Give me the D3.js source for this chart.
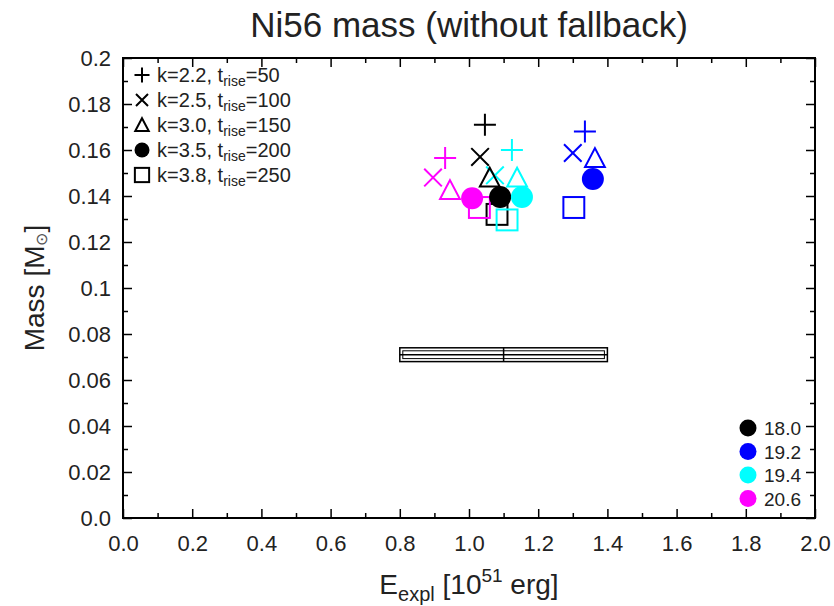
<!DOCTYPE html>
<html><head><meta charset="utf-8">
<script src="https://cdn.jsdelivr.net/npm/d3@7"></script>
<style>body{margin:0;background:#fff}svg{font-family:"Liberation Sans",Arial,sans-serif}</style>
</head><body>
<script>
// ---- data ----
const seriesNames = ["18.0", "19.2", "19.4", "20.6"];
const seriesColors = ["#000000", "#0000ff", "#00ffff", "#ff00ff"];
const markerKinds = ["plus", "cross", "triangle", "circle", "square"];
const markerLabels = [["k=2.2, t", "rise", "=50"], ["k=2.5, t", "rise", "=100"], ["k=3.0, t", "rise", "=150"], ["k=3.5, t", "rise", "=200"], ["k=3.8, t", "rise", "=250"]];
// energy [1e51 erg] per series, order = markerKinds
const energy18 = [1.046, 1.032, 1.06, 1.09, 1.081];
const energy192 = [1.335, 1.30, 1.364, 1.358, 1.303];
const energy194 = [1.124, 1.075, 1.139, 1.153, 1.11];
const energy206 = [0.931, 0.896, 0.945, 1.009, 1.03];
// Ni56 mass [Msun]
const mass18 = [0.171, 0.157, 0.148, 0.1396, 0.132];
const mass192 = [0.168, 0.1587, 0.1565, 0.1474, 0.135];
const mass194 = [0.160, 0.149, 0.148, 0.1396, 0.1296];
const mass206 = [0.1565, 0.148, 0.1426, 0.139, 0.135];
// observed box
const obsE = [0.8, 1.1, 1.4];
const obsM = [0.068, 0.071, 0.074];
const xTicks = [0, 0.2, 0.4, 0.6, 0.8, 1.0, 1.2, 1.4, 1.6, 1.8, 2.0];
const xTickLabels = ["0.0", "0.2", "0.4", "0.6", "0.8", "1.0", "1.2", "1.4", "1.6", "1.8", "2.0"];
const yTicks = [0, 0.02, 0.04, 0.06, 0.08, 0.1, 0.12, 0.14, 0.16, 0.18, 0.2];
const yTickLabels = ["0.0", "0.02", "0.04", "0.06", "0.08", "0.1", "0.12", "0.14", "0.16", "0.18", "0.2"];

const energies = [energy18, energy192, energy194, energy206];
const masses = [mass18, mass192, mass194, mass206];

const W = 834, H = 606;
const m = {left: 123, right: 19, top: 58, bottom: 88};
const svg = d3.select("body").append("svg").attr("width", W).attr("height", H);
const x = d3.scaleLinear().domain([0, 2]).range([m.left, W - m.right]);
const y = d3.scaleLinear().domain([0, 0.2]).range([H - m.bottom, m.top]);

// axes with inward ticks
const xMinor = d3.range(0.1, 2, 0.2);
const yMinor = d3.range(0.01, 0.2, 0.02);
const fmtX = (d, i) => xTickLabels[i];
const fmtY = (d, i) => yTickLabels[i];
svg.append("g").attr("transform", `translate(0,${y(0)})`)
  .call(d3.axisBottom(x).tickValues(xTicks).tickFormat(fmtX).tickSizeInner(-9).tickSizeOuter(0).tickPadding(17));
svg.append("g").attr("transform", `translate(0,${y(0.2)})`)
  .call(d3.axisTop(x).tickValues(xTicks).tickFormat("").tickSizeInner(-9).tickSizeOuter(0));
svg.append("g").attr("transform", `translate(${x(0)},0)`)
  .call(d3.axisLeft(y).tickValues(yTicks).tickFormat(fmtY).tickSizeInner(-9).tickSizeOuter(0).tickPadding(12));
svg.append("g").attr("transform", `translate(${x(2)},0)`)
  .call(d3.axisRight(y).tickValues(yTicks).tickFormat("").tickSizeInner(-9).tickSizeOuter(0));
svg.append("g").attr("transform", `translate(0,${y(0)})`).call(d3.axisBottom(x).tickValues(xMinor).tickFormat("").tickSizeInner(-5).tickSizeOuter(0));
svg.append("g").attr("transform", `translate(0,${y(0.2)})`).call(d3.axisTop(x).tickValues(xMinor).tickFormat("").tickSizeInner(-5).tickSizeOuter(0));
svg.append("g").attr("transform", `translate(${x(0)},0)`).call(d3.axisLeft(y).tickValues(yMinor).tickFormat("").tickSizeInner(-5).tickSizeOuter(0));
svg.append("g").attr("transform", `translate(${x(2)},0)`).call(d3.axisRight(y).tickValues(yMinor).tickFormat("").tickSizeInner(-5).tickSizeOuter(0));
svg.selectAll(".domain").remove();
svg.selectAll(".tick line").attr("stroke", "#000").attr("stroke-width", 1.5);
svg.selectAll(".tick text").attr("font-size", 22).attr("fill", "#222").attr("font-family", "Liberation Sans, Arial, sans-serif");
svg.append("rect").attr("x", x(0)).attr("y", y(0.2)).attr("width", x(2) - x(0)).attr("height", y(0) - y(0.2))
  .attr("fill", "none").attr("stroke", "#000").attr("stroke-width", 2);

// title & axis labels
svg.append("text").attr("x", 469).attr("y", 37).attr("text-anchor", "middle").attr("font-size", 35).attr("fill", "#222").text("Ni56 mass (without fallback)");
const xl = svg.append("text").attr("x", (x(0) + x(2)) / 2).attr("y", 594).attr("text-anchor", "middle").attr("font-size", 28).attr("fill", "#222");
xl.append("tspan").text("E");
xl.append("tspan").attr("font-size", 20).attr("dy", 7).text("expl");
xl.append("tspan").attr("dy", -7).text(" [10");
xl.append("tspan").attr("font-size", 19).attr("dy", -12).text("51");
xl.append("tspan").attr("dy", 12).text(" erg]");
const yl = svg.append("text").attr("transform", `translate(44,${(y(0) + y(0.2)) / 2}) rotate(-90)`).attr("text-anchor", "middle").attr("font-size", 28).attr("fill", "#222");
yl.append("tspan").text("Mass [M");
yl.append("tspan").attr("font-size", 16).attr("fill", "#555").attr("dy", 3).text("\u2299");
yl.append("tspan").attr("dy", -3).text("]");

// observed box
const g = svg.append("g");
g.append("rect").attr("x", x(obsE[0])).attr("y", y(obsM[2])).attr("width", x(obsE[2]) - x(obsE[0])).attr("height", y(obsM[0]) - y(obsM[2]))
  .attr("fill", "none").attr("stroke", "#000").attr("stroke-width", 1.5);
g.append("rect").attr("x", x(obsE[0]) + 3).attr("y", y(obsM[2]) + 3).attr("width", x(obsE[2]) - x(obsE[0]) - 6).attr("height", y(obsM[0]) - y(obsM[2]) - 6)
  .attr("fill", "none").attr("stroke", "#000").attr("stroke-width", 1);
g.append("line").attr("x1", x(obsE[0])).attr("x2", x(obsE[2])).attr("y1", y(obsM[1])).attr("y2", y(obsM[1])).attr("stroke", "#000").attr("stroke-width", 1.5);
g.append("line").attr("x1", x(obsE[1])).attr("x2", x(obsE[1])).attr("y1", y(obsM[0])).attr("y2", y(obsM[2])).attr("stroke", "#000").attr("stroke-width", 1.5);

// markers
function drawMarker(sel, kind, cx, cy, s, color) {
  const h = s / 2;
  if (kind === "plus") {
    sel.append("path").attr("d", `M${cx - h},${cy}H${cx + h}M${cx},${cy - h}V${cy + h}`).attr("stroke", color).attr("stroke-width", 2).attr("fill", "none");
  } else if (kind === "cross") {
    const k = h * 0.8;
    sel.append("path").attr("d", `M${cx - k},${cy - k}L${cx + k},${cy + k}M${cx - k},${cy + k}L${cx + k},${cy - k}`).attr("stroke", color).attr("stroke-width", 2).attr("fill", "none");
  } else if (kind === "triangle") {
    const k = h * 0.9;
    sel.append("path").attr("d", `M${cx},${cy - k}L${cx + k},${cy + k * 0.9}L${cx - k},${cy + k * 0.9}Z`).attr("stroke", color).attr("stroke-width", 2).attr("fill", "none");
  } else if (kind === "circle") {
    sel.append("circle").attr("cx", cx).attr("cy", cy).attr("r", h).attr("fill", color);
  } else if (kind === "square") {
    const k = h * 0.95;
    sel.append("rect").attr("x", cx - k).attr("y", cy - k).attr("width", 2 * k).attr("height", 2 * k).attr("stroke", color).attr("stroke-width", 2).attr("fill", "none");
  }
}
const pts = svg.append("g");
const drawOrder = [0, 1, 2, 4, 3];
drawOrder.forEach(mi => {
  seriesNames.forEach((nm, si) => {
    drawMarker(pts, markerKinds[mi], x(energies[si][mi]), y(masses[si][mi]), 22, seriesColors[si]);
  });
});

// legend top-left (marker types)
const lg = svg.append("g");
markerKinds.forEach((kind, i) => {
  const cy = 75 + i * 25;
  drawMarker(lg, kind, 142, cy, 15, "#000");
  const t = lg.append("text").attr("x", 157).attr("y", cy + 7).attr("font-size", 20).attr("fill", "#222");
  t.append("tspan").text(markerLabels[i][0]);
  t.append("tspan").attr("font-size", 14).attr("dy", 4).text(markerLabels[i][1]);
  t.append("tspan").attr("dy", -4).text(markerLabels[i][2]);
});
// legend bottom-right (series)
const lg2 = svg.append("g");
seriesNames.forEach((nm, i) => {
  const cy = 428 + i * 23.5;
  lg2.append("circle").attr("cx", 748).attr("cy", cy).attr("r", 8.5).attr("fill", seriesColors[i]);
  lg2.append("text").attr("x", 764).attr("y", cy + 7).attr("font-size", 19).attr("fill", "#222").text(nm);
});
</script>
</body></html>
